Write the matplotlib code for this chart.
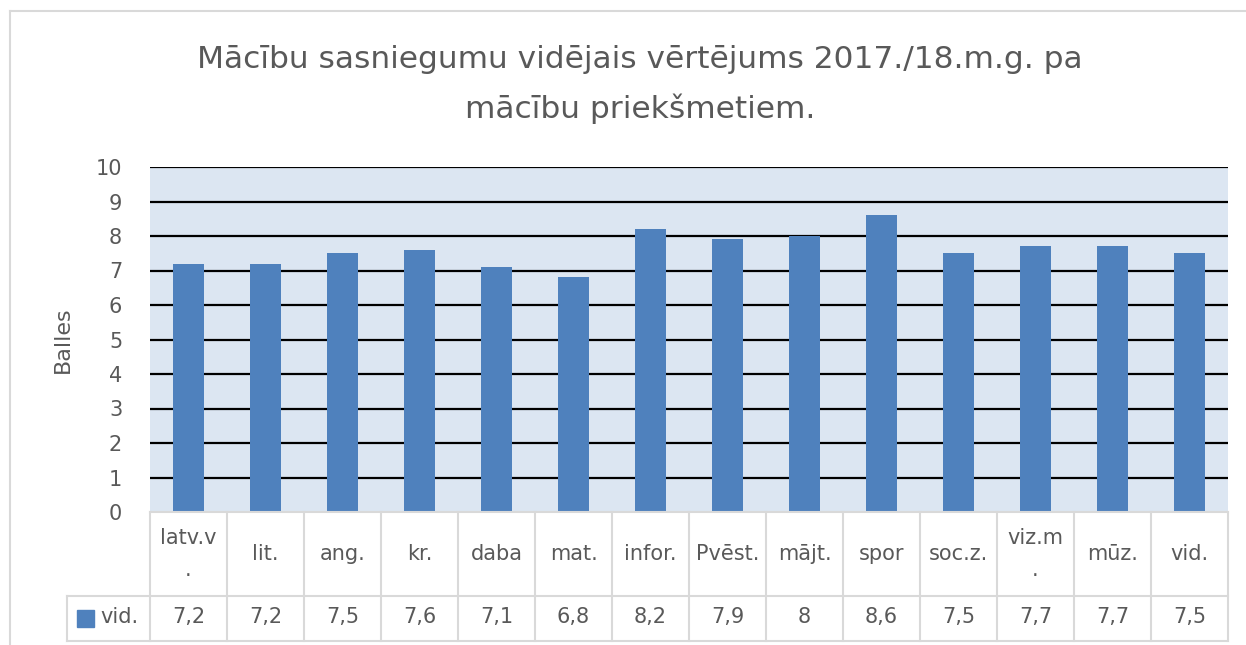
import matplotlib
matplotlib.use("Agg")
import matplotlib.pyplot as plt
from matplotlib.lines import Line2D
from matplotlib.patches import Rectangle

categories = ["latv.v.", "lit.", "ang.", "kr.", "daba", "mat.", "infor.", "Pvēst.",
              "mājt.", "spor", "soc.z.", "viz.m.", "mūz.", "vid."]
values = [7.2, 7.2, 7.5, 7.6, 7.1, 6.8, 8.2, 7.9, 8.0, 8.6, 7.5, 7.7, 7.7, 7.5]
value_labels = ["7,2", "7,2", "7,5", "7,6", "7,1", "6,8", "8,2", "7,9", "8", "8,6",
                "7,5", "7,7", "7,7", "7,5"]
series_name = "vid."
title = "Mācību sasniegumu vidējais vērtējums 2017./18.m.g. pa\nmācību priekšmetiem."
ylabel = "Balles"

W, H = 1246, 645
TXT = "#595959"
GRID_CELL = "#D9D9D9"
BAR = "#4F81BD"
BG = "#DCE6F2"
FS = 15
# labels that the original table cell wrapped (last character on a second line)
WRAPPED = {"latv.v.", "viz.m."}

plt.rcParams['font.family'] = ['DejaVu Sans']

fig = plt.figure(figsize=(W / 100, H / 100), dpi=100)
fig.patch.set_facecolor("white")

def fx(px):
    return px / W

def fy(py):
    return 1 - py / H

ax_left, ax_right, ax_top, ax_bot = 150, 1228, 167, 512
ax = fig.add_axes([fx(ax_left), fy(ax_bot), (ax_right - ax_left) / W, (ax_bot - ax_top) / H])
ax.set_facecolor(BG)
n = len(categories)
x = list(range(n))
ax.bar(x, values, width=0.39, color=BAR, zorder=3)
ax.set_xlim(-0.5, n - 0.5)
ax.set_ylim(0, 10)
ax.set_yticks(range(0, 11))
for yv in range(1, 11):
    ax.axhline(yv, color="black", lw=1.6, zorder=2)
ax.set_xticks([])
for s in ax.spines.values():
    s.set_visible(False)
ax.tick_params(axis="y", length=0, labelsize=FS, labelcolor=TXT, pad=20)
ax.set_ylabel(ylabel, fontsize=16, color=TXT, va="center")
ax.yaxis.set_label_coords((63 - ax_left) / (ax_right - ax_left), (ax_bot - 340) / (ax_bot - ax_top))

# Title (two lines, placed on their baselines)
for line, base in zip(title.split("\n"), [68, 118]):
    fig.text(fx(640), fy(base), line, ha="center", va="baseline", fontsize=22.5, color=TXT)

# Outer border
fig.add_artist(Line2D([fx(10), fx(10)], [fy(11), fy(H)], color=GRID_CELL, lw=1.5))
fig.add_artist(Line2D([fx(10), fx(W)], [fy(11), fy(11)], color=GRID_CELL, lw=1.5))

# Data table
row1_top, row_mid, row2_bot = 512, 596, 641
leg_left = 67
col_w = (ax_right - ax_left) / n

def col_edge(i):
    return ax_left + i * col_w

for i in range(n + 1):
    xe = col_edge(i)
    fig.add_artist(Line2D([fx(xe), fx(xe)], [fy(row1_top), fy(row2_bot)], color=GRID_CELL, lw=1.5))
fig.add_artist(Line2D([fx(leg_left), fx(leg_left)], [fy(row_mid), fy(row2_bot)], color=GRID_CELL, lw=1.5))
fig.add_artist(Line2D([fx(ax_left), fx(ax_right)], [fy(row1_top), fy(row1_top)], color=GRID_CELL, lw=1.5))
fig.add_artist(Line2D([fx(leg_left), fx(ax_right)], [fy(row_mid), fy(row_mid)], color=GRID_CELL, lw=1.5))
fig.add_artist(Line2D([fx(leg_left), fx(ax_right)], [fy(row2_bot), fy(row2_bot)], color=GRID_CELL, lw=1.5))

def wrap(label):
    if label in WRAPPED:
        return label[:-1] + "\n" + label[-1:]
    return label

for i, (c, v) in enumerate(zip(categories, value_labels)):
    cx = col_edge(i) + col_w / 2
    fig.text(fx(cx), fy(554), wrap(c), ha="center", va="center",
             fontsize=FS, color=TXT, linespacing=1.75)
    fig.text(fx(cx), fy(617), v, ha="center", va="center",
             fontsize=FS, color=TXT)

fig.add_artist(Rectangle((fx(77), fy(627)), 17 / W, 17 / H, color=BAR, transform=fig.transFigure))
fig.text(fx(100), fy(617), series_name, ha="left", va="center", fontsize=FS, color=TXT)

fig.savefig("out.png", dpi=100)
